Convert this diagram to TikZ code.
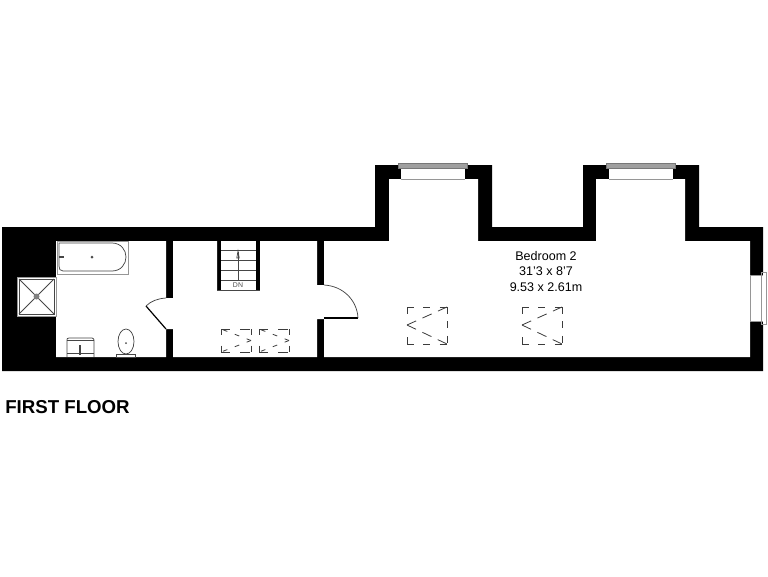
\documentclass[tikz,border=0pt]{standalone}
\usepackage{fontspec}
\setmainfont{Liberation Sans}
\usepackage{tikz}
\tikzset{
  fixture/.style={draw={rgb,255:red,70;green,70;blue,70},line width=0.55pt},
  glazing/.style={draw={rgb,255:red,150;green,150;blue,150},line width=0.6pt},
  sill/.style={fill={rgb,255:red,160;green,160;blue,160},draw={rgb,255:red,120;green,120;blue,120},line width=0.3pt},
  skyedge/.style={draw={rgb,255:red,60;green,60;blue,60},line width=0.6pt},
}

\begin{document}
\begin{tikzpicture}[x=0.75pt,y=0.75pt,yscale=-1,xscale=1]
\useasboundingbox (0,0) rectangle (768,576);

%Shape: Outer walls
\fill [black] (2,227) -- (375,227) -- (375,165) -- (492,165) -- (492,227) -- (583,227) -- (583,165) -- (699,165) -- (699,227) -- (763,227) -- (763,371) -- (2,371) -- cycle ;
%Shape: Floor area
\fill [white] (56,241) -- (166,241) -- (166,298) -- (173,298) -- (173,241) -- (217,241) -- (217,290) -- (260,290) -- (260,241) -- (317,241) -- (317,285) -- (324,285) -- (324,241) -- (389,241) -- (389,179) -- (478,179) -- (478,241) -- (596,241) -- (596,179) -- (685,179) -- (685,241) -- (750,241) -- (750,357) -- (324,357) -- (324,319) -- (317,319) -- (317,357) -- (173,357) -- (173,329) -- (166,329) -- (166,357) -- (56,357) -- (56,316) -- (17,316) -- (17,277) -- (56,277) -- cycle ;
%Shape: Stair well
\fill [white] (221,241) rectangle (256,290) ;

%Shape: Top windows
\foreach \xa in {401,609} {
  \fill [white] (\xa,167) rectangle (\xa+64,179) ;
  \draw [glazing] (\xa,179) -- (\xa+64,179) ;
  \draw [sill] (\xa-2.5,163) rectangle (\xa+66.5,168) ;
}
%Shape: Right window
\fill [white] (750,275) rectangle (763,321) ;
\draw [glazing] (763,275) -- (750,275) -- (750,321) -- (763,321) ;
\fill [white] (763,272) rectangle (766,324) ;
\draw [glazing] (761,272) rectangle (766,324) ;

%Shape: Bath
\draw [glazing] (57,241) rectangle (128,274) ;
\draw [fixture] (59,243) -- (112,243) .. controls (121,243) and (126,250) .. (126,257) .. controls (126,264) and (121,271) .. (112,271) -- (63,271) .. controls (60,271) and (59,269) .. (59,266) -- cycle ;
\draw [fixture,line width=1pt] (59,257) -- (64,257) ;
\fill [black!70] (92,257) circle (1.5) ;

%Shape: Shower
\draw [glazing,fill=white] (17,277) rectangle (56,316) ;
\draw [fixture] (19,279) rectangle (54,314) ;
\draw [fixture] (19,279) -- (54,314) (54,279) -- (19,314) ;
\fill [black!50] (36.5,296.5) circle (3) ;

%Shape: Basin
\draw [fixture] (67,357) -- (67,340) .. controls (67,339) and (67,338) .. (69,338) -- (92,338) .. controls (93,338) and (94,339) .. (94,340) -- (94,357) ;
\draw [fixture] (67,340) -- (94,340) (67,353) -- (94,353) ;
\draw [fixture,line width=1pt] (80,345) -- (80,355) ;

%Shape: Toilet
\draw [fixture] (126,341.5) ellipse (8 and 12.5) ;
\draw [fixture,fill=white] (116.5,354) rectangle (135.5,357) ;
\fill [black!70] (126,343) circle (1) ;

%Shape: Doors
\draw [line width=0.9pt] (166,329) -- (146,306) ;
\draw [fixture] (146,306) .. controls (151,301) and (158,298.5) .. (166,298) ;
\draw [line width=0.9pt] (324,318) -- (358,318) ;
\draw [fixture] (324,285) .. controls (343,286) and (357,300) .. (358,318) ;

%Shape: Stairs
\foreach \ya in {250,260,270,280} {
  \draw [fixture] (221,\ya) -- (256,\ya) ;
}
\draw [fixture] (238,280) -- (238,252) ;
\draw [fixture] (238,251) -- (236.8,258) -- (239.2,258) -- cycle ;
\draw [fixture] (217,290) -- (260,290) ;

%Shape: Small roof lights
\foreach \xa in {221,259} {
  \draw [skyedge,dash pattern=on 7pt off 7.5pt] (\xa,329) -- (\xa+30,329) ;
  \draw [skyedge,dash pattern=on 7pt off 7.5pt] (\xa,352) -- (\xa+30,352) ;
  \draw [skyedge,dash pattern=on 4.5pt off 8pt] (\xa,329) -- (\xa,352) ;
  \draw [skyedge,dash pattern=on 4.5pt off 8pt] (\xa+30,329) -- (\xa+30,352) ;
  \draw [skyedge,dash pattern=on 3.5pt off 6pt] (\xa+30,340.5) -- (\xa,329) ;
  \draw [skyedge,dash pattern=on 3.5pt off 6pt] (\xa+30,340.5) -- (\xa,352) ;
}
%Shape: Large roof lights
\foreach \xa in {407,522} {
  \draw [skyedge,dash pattern=on 5.25pt off 7.1pt] (\xa,307) -- (\xa+40,307) ;
  \draw [skyedge,dash pattern=on 5.25pt off 7.1pt] (\xa,344) -- (\xa+40,344) ;
  \draw [skyedge,dash pattern=on 5.25pt off 17.25pt] (\xa,307) -- (\xa,344) ;
  \draw [skyedge,dash pattern=on 5.25pt off 5.6pt] (\xa+40,307) -- (\xa+40,344) ;
  \draw [skyedge,dash pattern=on 7.5pt off 5.25pt] (\xa,325) -- (\xa+40,307) ;
  \draw [skyedge,dash pattern=on 7.5pt off 5.25pt] (\xa,325) -- (\xa+40,344) ;
}

% Text Node
\node (bedroom) at (546,271.5) [inner sep=0pt,align=center,font=\fontsize{9.4}{11.6}\selectfont] {Bedroom 2\\31'3 x 8'7\\9.53 x 2.61m};
\node (stairsdn) at (238,285) [inner sep=0pt,text=black!70,font=\fontsize{5.2}{6}\selectfont] {DN};
\node (floortitle) at (5,407.5) [anchor=west,inner sep=0pt,font=\fontsize{14}{16}\selectfont\bfseries] {FIRST FLOOR};

\end{tikzpicture}
\end{document}
